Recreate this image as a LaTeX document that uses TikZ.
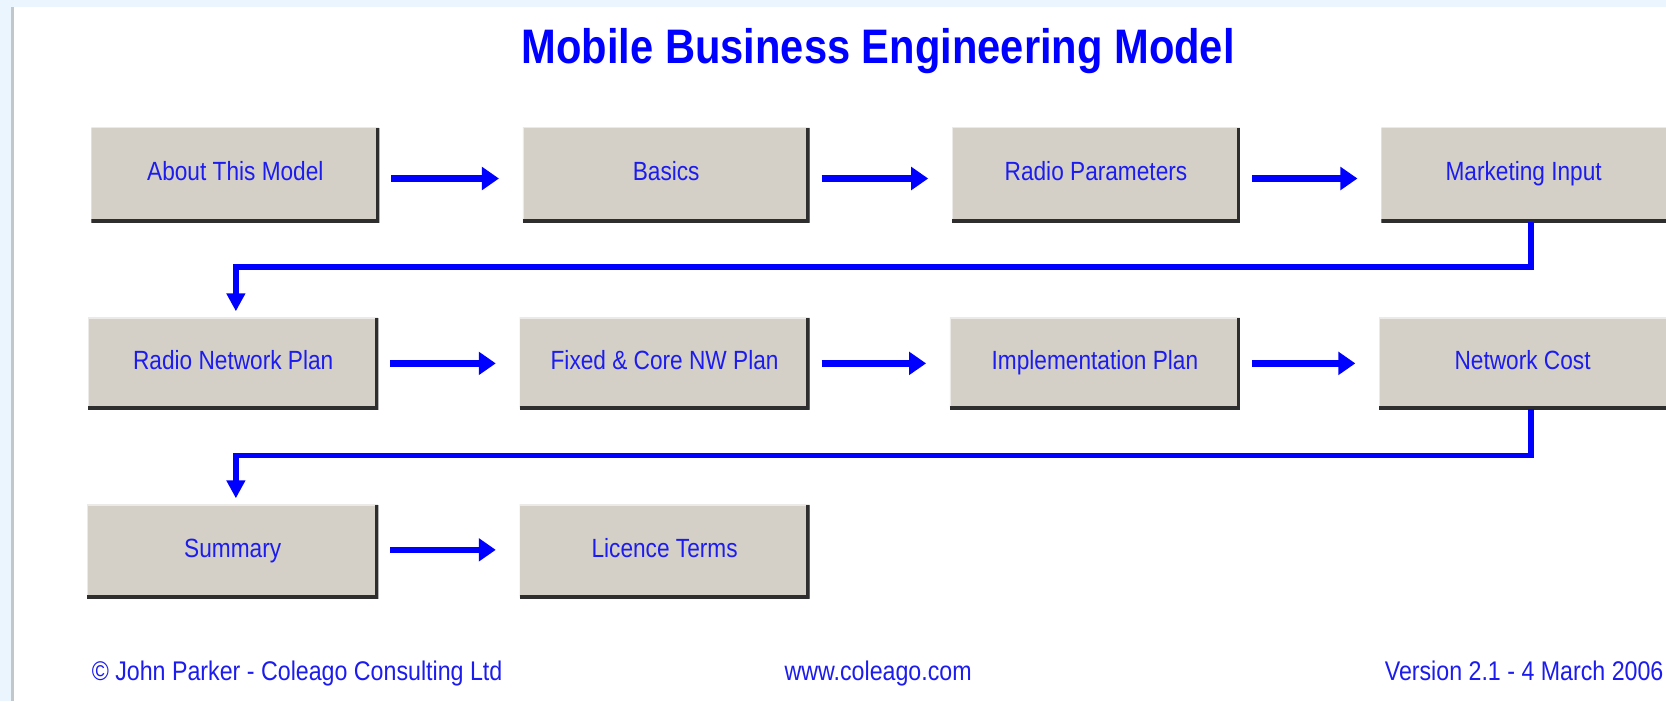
\documentclass[tikz,border=0pt]{standalone}
\usepackage{fontspec}
\setmainfont{Liberation Sans}[FakeStretch=0.86]
\usetikzlibrary{arrows.meta}
\definecolor{boxgray}{HTML}{D4D0C8}
\definecolor{shadowc}{HTML}{2E2E2E}
\definecolor{bandblue}{HTML}{EAF5FD}
\definecolor{edgegray}{HTML}{C2C7CC}
\definecolor{txtblue}{RGB}{28,28,238}
\tikzset{
  boxbase/.style={fill=boxgray, draw=none, inner sep=0pt, text=txtblue,
    font=\fontsize{12.4pt}{14pt}\selectfont, text height=8.8pt, text depth=3pt},
  btn/.style={boxbase, path picture={
     \draw[line width=0.8pt, white!55!boxgray]
       (path picture bounding box.south west) -- (path picture bounding box.north west)
       -- (path picture bounding box.north east);
     \draw[line width=3pt, shadowc]
       (path picture bounding box.south west) -- (path picture bounding box.south east)
       -- (path picture bounding box.north east);}},
  btncut/.style={boxbase, path picture={
     \draw[line width=0.8pt, white!55!boxgray]
       (path picture bounding box.south west) -- (path picture bounding box.north west)
       -- (path picture bounding box.north east);
     \draw[line width=3pt, shadowc]
       (path picture bounding box.south west) -- (path picture bounding box.south east);}},
  harr/.style={blue, line width=3pt, -{Triangle[length=8pt,width=10.5pt]},
    shorten <=5.5pt, shorten >=11pt},
  varr/.style={blue, line width=2.5pt, line join=miter, -{Triangle[length=8.5pt,width=8.5pt]},
    shorten >=2.8pt},
  foot/.style={inner sep=0pt, text=txtblue, font=\fontsize{12.7pt}{14pt}\selectfont},
}
\begin{document}
\begin{tikzpicture}[x=0.5pt, y=-0.5pt]
\useasboundingbox (0,0) rectangle (1568,660);
% background
\fill[white] (0,0) rectangle (1568,660);
\fill[bandblue] (0,0) rectangle (1568,7);
\fill[bandblue] (0,0) rectangle (10,660);
\fill[edgegray] (10,7) rectangle (13,660);
% title
\node[inner sep=0pt, anchor=base, text=blue, font=\fontsize{22.8pt}{26pt}\selectfont\bfseries]
  (title) at (826.5,60) {Mobile Business Engineering Model};
% row 1
\node[btn, minimum width=135.5pt, minimum height=44.5pt] (b11) at (221.5,164.5) {About This Model};
\node[btn, minimum width=135pt, minimum height=44.5pt] (b12) at (627,164.5) {Basics};
\node[btn, minimum width=135.5pt, minimum height=44.5pt] (b13) at (1031.5,164.5) {Radio Parameters};
\node[btncut, minimum width=134pt, minimum height=44.5pt] (b14) at (1434,164.5) {Marketing Input};
% row 2
\node[btn, minimum width=136.5pt, minimum height=43pt] (b21) at (219.5,342) {Radio Network Plan};
\node[btn, minimum width=136.5pt, minimum height=43pt] (b22) at (625.5,342) {Fixed \& Core NW Plan};
\node[btn, minimum width=136.5pt, minimum height=43pt] (b23) at (1030.5,342) {Implementation Plan};
\node[btncut, minimum width=135pt, minimum height=43pt] (b24) at (1433,342) {Network Cost};
% row 3
\node[btn, minimum width=137pt, minimum height=44pt] (b31) at (219,519) {Summary};
\node[btn, minimum width=136.5pt, minimum height=44pt] (b32) at (625.5,519) {Licence Terms};
% horizontal arrows
\draw[harr] ([yshift=-1.75pt]b11.east) -- ([yshift=-1.75pt]b12.west);
\draw[harr] ([yshift=-1.75pt]b12.east) -- ([yshift=-1.75pt]b13.west);
\draw[harr] ([yshift=-1.75pt]b13.east) -- ([yshift=-1.75pt]b14.west);
\draw[harr] (b21.east) -- (b22.west);
\draw[harr] (b22.east) -- (b23.west);
\draw[harr] (b23.east) -- (b24.west);
\draw[harr] ([yshift=0.75pt]b31.east) -- ([yshift=0.75pt]b32.west);
% elbow connectors
\draw[varr] ([xshift=3.5pt]b14.south) -- ++(0,42) -| ([xshift=1.25pt]b21.north);
\draw[varr] ([xshift=4pt]b24.south) -- ++(0,43) -| ([xshift=1.5pt]b31.north);
% footer
\node[foot, anchor=base west] (copy) at (86,640) {© John Parker - Coleago Consulting Ltd};
\node[foot, anchor=base] (web) at (826.5,640) {www.coleago.com};
\node[foot, anchor=base east] (ver) at (1566,640) {Version 2.1 - 4 March 2006};
\end{tikzpicture}
\end{document}
